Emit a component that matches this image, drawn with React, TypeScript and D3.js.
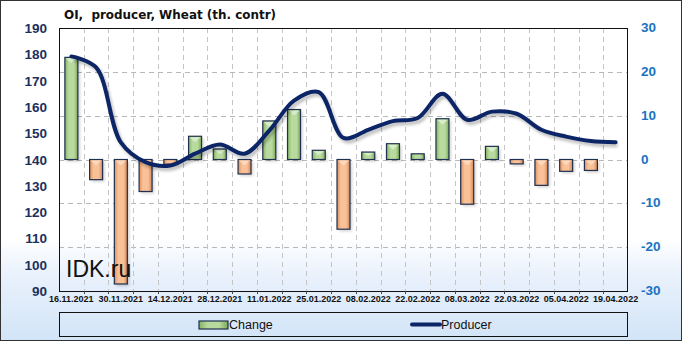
import React from "react";
import * as d3 from "d3";

const dates = ["16.11.2021","23.11.2021","30.11.2021","07.12.2021","14.12.2021","21.12.2021","28.12.2021","04.01.2022","11.01.2022","18.01.2022","25.01.2022","01.02.2022","08.02.2022","15.02.2022","22.02.2022","01.03.2022","08.03.2022","15.03.2022","22.03.2022","29.03.2022","05.04.2022","12.04.2022","19.04.2022"];
const change = [23.3,-4.6,-28.4,-7.3,-1.1,5.3,2.4,-3.3,8.8,11.4,2.1,-15.9,1.7,3.6,1.3,9.3,-10.2,3.0,-1.0,-5.9,-2.7,-2.5,0];
const producer = [179.2,175,146.5,139,137.7,142.2,145.7,142.2,151,162.4,165.6,148.2,151.3,154.6,155.8,165,155.1,158.2,157.4,151.3,148.7,147,146.6];
const leftTicks = [90,100,110,120,130,140,150,160,170,180,190];
const rightTicks = [-30,-20,-10,0,10,20,30];
const gridTicks = [-20,-10,0,10,20];
const title = "OI,  producer, Wheat (th. contr)";

const W = 682, H = 341;
const L = 59, R = 628, T = 28, B = 291;

export default function App() {
  const x = d3.scaleBand<string>().domain(dates).range([L, R]).padding(0);
  const yL = d3.scaleLinear().domain([90, 190]).range([B, T]);
  const yR = d3.scaleLinear().domain([-30, 30]).range([B, T]);
  const bw = 13;
  const line = d3.line<number>()
    .x((_, i) => (x(dates[i]) as number) + x.bandwidth() / 2)
    .y(d => yL(d))
    .curve(d3.curveCatmullRom.alpha(0.5));
  const path = line(producer) || "";
  const boundaries = dates.map((_, i) => L + x.step() * i).slice(1);
  const font = "'Liberation Sans', Arial, sans-serif";
  const tfont = "'DejaVu Sans', Verdana, sans-serif";

  return (
    <svg width={W} height={H} style={{ position: "absolute", left: 0, top: 0 }}>
      <defs>
        <linearGradient id="bg" x1="0" y1="0" x2="0" y2="1">
          <stop offset="0" stopColor="#ffffff" />
          <stop offset="0.7" stopColor="#ffffff" />
          <stop offset="0.8" stopColor="#eaf2fc" />
          <stop offset="1" stopColor="#d2e4f7" />
        </linearGradient>
        <linearGradient id="gG" x1="0" y1="0" x2="1" y2="0">
          <stop offset="0" stopColor="#86b360" />
          <stop offset="0.3" stopColor="#b9da9f" />
          <stop offset="0.7" stopColor="#b9da9f" />
          <stop offset="1" stopColor="#7aa856" />
        </linearGradient>
        <linearGradient id="gO" x1="0" y1="0" x2="1" y2="0">
          <stop offset="0" stopColor="#e0915c" />
          <stop offset="0.3" stopColor="#f8c197" />
          <stop offset="0.7" stopColor="#f8c197" />
          <stop offset="1" stopColor="#d98452" />
        </linearGradient>
        <filter id="blur" x="-10%" y="-10%" width="120%" height="120%">
          <feGaussianBlur stdDeviation="1.5" />
        </filter>
      </defs>
      <rect x={0.5} y={0.5} width={W - 1} height={H - 1} fill="url(#bg)" stroke="#333" />
      {gridTicks.map(t => (
        <line key={"h" + t} x1={L} x2={R} y1={Math.round(yR(t)) + 0.5} y2={Math.round(yR(t)) + 0.5}
          stroke="#b8b8b8" strokeDasharray="5,4" />
      ))}
      {boundaries.map((b, i) => (
        <line key={"v" + i} x1={Math.round(b) + 0.5} x2={Math.round(b) + 0.5} y1={T} y2={B}
          stroke="#c4c4c4" strokeDasharray="5,4" />
      ))}
      {change.map((v, i) => {
        if (v === 0) return null;
        const cx = (x(dates[i]) as number) + x.bandwidth() / 2;
        const y0 = yR(0), y1 = yR(v);
        const top = Math.min(y0, y1), h = Math.abs(y1 - y0);
        const pos = v > 0;
        return (
          <g key={"b" + i}>
            <rect x={cx - bw / 2 + 2} y={top + 2} width={bw} height={h} fill="#000" opacity={0.18} filter="url(#blur)" />
            <rect x={cx - bw / 2} y={top} width={bw} height={h} fill={pos ? "url(#gG)" : "url(#gO)"} stroke="#1f3050" strokeWidth={1.2} />
            {h > 6 && (
              <path d={`M${cx - bw / 2 + 1},${top + 1} L${cx + bw / 2 - 1},${top + 1} L${cx},${top + Math.min(6, h / 2)} Z`}
                fill={pos ? "#dcefcf" : "#fbdcc4"} opacity={0.85} />
            )}
          </g>
        );
      })}
      <path d={path} fill="none" stroke="#000" strokeWidth={4} opacity={0.25} transform="translate(2,3)" filter="url(#blur)" />
      <path d={path} fill="none" stroke="#0c2566" strokeWidth={4} strokeLinecap="round" strokeLinejoin="round" />
      <rect x={L + 0.5} y={T + 0.5} width={R - L - 1} height={B - T} fill="none" stroke="#111" strokeWidth={1} />
      {boundaries.map((b, i) => (
        <line key={"t" + i} x1={Math.round(b) + 0.5} x2={Math.round(b) + 0.5} y1={B} y2={B + 3} stroke="#444" />
      ))}
      {leftTicks.map(t => (
        <text key={"l" + t} x={47} y={yL(t) + 5} textAnchor="end" fontFamily={font} fontWeight="bold" fontSize={13.5} fill="#1c2f5e">{t}</text>
      ))}
      {rightTicks.map(t => (
        <text key={"r" + t} x={641} y={yR(t) + 4} textAnchor="start" fontFamily={font} fontWeight="bold" fontSize={13.5} fill="#1a73c2">{t}</text>
      ))}
      {dates.map((d, i) => i % 2 === 0 ? (
        <text key={"x" + i} x={(x(d) as number) + x.bandwidth() / 2} y={301.5} textAnchor="middle" fontFamily={font} fontWeight="bold" fontSize={9} fill="#111">{d}</text>
      ) : null)}
      <text x={64} y={19} fontFamily={tfont} fontWeight="bold" fontSize={12.5} fill="#111" textLength={212} lengthAdjust="spacingAndGlyphs" style={{ whiteSpace: "pre" }}>{title}</text>
      <text x={66} y={277} fontFamily={font} fontSize={23} fill="#111">IDK.ru</text>
      <rect x={59.5} y={312.5} width={R - L - 1} height={24} fill="none" stroke="#111" />
      <rect x={199} y={321} width={29} height={8} fill="url(#gG)" stroke="#1f3050" strokeWidth={1.2} />
      <text x={229} y={329} fontFamily={font} fontSize={12.5} fill="#111">Change</text>
      <line x1={412} x2={440} y1={324.5} y2={324.5} stroke="#0c2566" strokeWidth={4} strokeLinecap="round" />
      <text x={441} y={329} fontFamily={font} fontSize={12.5} fill="#111">Producer</text>
    </svg>
  );
}
